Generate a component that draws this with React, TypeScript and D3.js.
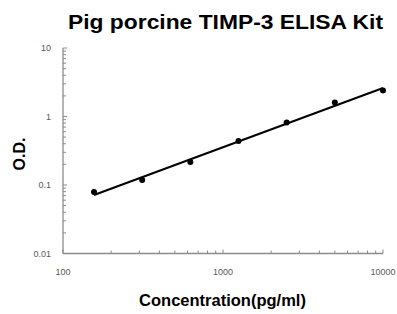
import * as d3 from "d3";

const title = "Pig porcine TIMP-3 ELISA Kit";
const xTitle = "Concentration(pg/ml)";
const yTitle = "O.D.";

const concentrations = [156.25, 312.5, 625, 1250, 2500, 5000, 10000];
const odValues = [0.079, 0.118, 0.217, 0.44, 0.817, 1.6, 2.4];

const xTickValues = [100, 1000, 10000];
const yTickValues = [0.01, 0.1, 1, 10];

const W = 397;
const H = 314;

export default function App() {
  const x = d3.scaleLog().domain([100, 10000]).range([63, 383]);
  const y = d3.scaleLog().domain([0.01, 10]).range([253.5, 48]);

  // least-squares fit in log-log space
  const lx = concentrations.map(Math.log10);
  const ly = odValues.map(Math.log10);
  const mx = d3.mean(lx)!;
  const my = d3.mean(ly)!;
  const slope =
    d3.sum(lx, (v, i) => (v - mx) * (ly[i] - my)) /
    d3.sum(lx, (v) => (v - mx) ** 2);
  const icpt = my - slope * mx;
  const fitAt = (c: number) => Math.pow(10, icpt + slope * Math.log10(c));
  const fitLine = d3
    .line<number>()
    .x((c) => x(c))
    .y((c) => y(fitAt(c)));
  const fitX = [concentrations[0], concentrations[concentrations.length - 1]];

  const xMinor = x.ticks().filter((t) => !xTickValues.includes(t));
  const yMinor = y.ticks().filter((t) => !yTickValues.some((v) => Math.abs(v - t) < 1e-9));

  const axisColor = "#8c8c8c";
  const labelColor = "#595959";

  return (
    <svg
      width={W}
      height={H}
      style={{ position: "absolute", left: 0, top: 0, background: "#fff" }}
      fontFamily="'Liberation Sans', Arial, sans-serif"
    >
      <text
        x={225.5}
        y={29}
        textAnchor="middle"
        fontSize={20.5}
        fontWeight="bold"
        fill="#000"
        textLength={315}
        lengthAdjust="spacingAndGlyphs"
      >
        {title}
      </text>

      {/* y axis */}
      <line x1={63} x2={63} y1={y(10)} y2={y(0.01)} stroke={axisColor} strokeWidth={1.3} />
      {yMinor.map((t, i) => (
        <line key={"ym" + i} x1={63} x2={66} y1={y(t)} y2={y(t)} stroke={axisColor} />
      ))}
      {yTickValues.map((t) => (
        <g key={"y" + t}>
          <line x1={63} x2={67} y1={y(t)} y2={y(t)} stroke={axisColor} />
          <text x={51} y={y(t)} dy="0.35em" textAnchor="end" fontSize={9} fill={labelColor}>
            {String(t)}
          </text>
        </g>
      ))}

      {/* x axis */}
      <line x1={x(100)} x2={x(10000)} y1={253.5} y2={253.5} stroke={axisColor} strokeWidth={1.3} />
      {xMinor.map((t, i) => (
        <line key={"xm" + i} x1={x(t)} x2={x(t)} y1={253.5} y2={250.5} stroke={axisColor} />
      ))}
      {xTickValues.map((t) => (
        <g key={"x" + t}>
          <line x1={x(t)} x2={x(t)} y1={253.5} y2={249.5} stroke={axisColor} />
          <text x={x(t)} y={275} textAnchor="middle" fontSize={9} fill={labelColor}>
            {String(t)}
          </text>
        </g>
      ))}

      <text x={222.5} y={306} textAnchor="middle" fontSize={16.5} fontWeight="bold" fill="#000">
        {xTitle}
      </text>
      <text
        transform="translate(24.5,154) rotate(-90)"
        textAnchor="middle"
        fontSize={16}
        fontWeight="bold"
        fill="#000"
      >
        {yTitle}
      </text>

      <path d={fitLine(fitX) ?? ""} fill="none" stroke="#000" strokeWidth={2} />
      {concentrations.map((c, i) => (
        <circle key={"p" + i} cx={x(c)} cy={y(odValues[i])} r={3} fill="#000" />
      ))}
    </svg>
  );
}
